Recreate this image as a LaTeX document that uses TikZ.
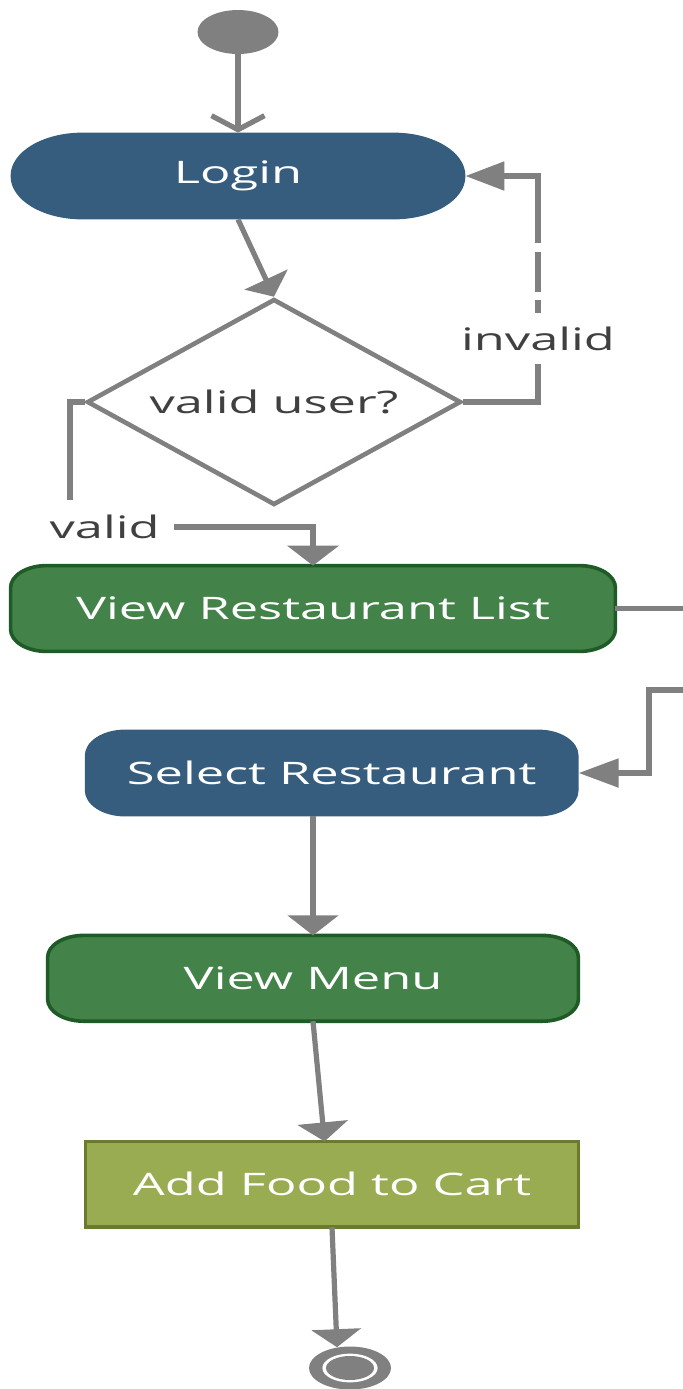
\documentclass[tikz,border=0pt]{standalone}
\usepackage{fontspec}
\setmainfont[FakeStretch=1.63]{Open Sans}
\usetikzlibrary{arrows.meta,shapes.geometric,calc}
\pgfdeclarelayer{bg}
\pgfsetlayers{bg,main}
\definecolor{lgray}{HTML}{808080}
\definecolor{dtext}{HTML}{404040}
\definecolor{actblue}{HTML}{365D7E}
\definecolor{actgreen}{HTML}{438249}
\definecolor{actgreenb}{HTML}{1F5B26}
\definecolor{actolive}{HTML}{9AAC52}
\definecolor{actoliveb}{HTML}{6A7A2E}
% rounded box with elliptical corners: node, rx, ry, style
\newcommand\ebox[4]{%
  \path[#4] let \p1=(#1.north west), \p2=(#1.south east) in
    (\x1+#2,\y1) -- (\x2-#2,\y1)
    .. controls (\x2-0.448*#2,\y1) and (\x2,\y1-0.448*#3) .. (\x2,\y1-#3)
    -- (\x2,\y2+#3)
    .. controls (\x2,\y2+0.448*#3) and (\x2-0.448*#2,\y2) .. (\x2-#2,\y2)
    -- (\x1+#2,\y2)
    .. controls (\x1+0.448*#2,\y2) and (\x1,\y2+0.448*#3) .. (\x1,\y2+#3)
    -- (\x1,\y1-#3)
    .. controls (\x1,\y1-0.448*#3) and (\x1+0.448*#2,\y1) .. cycle;}
\tikzset{
  txt/.style={font=\fontsize{15.5}{18}\selectfont, inner sep=0pt},
  actbox/.style={txt, text=white, draw=none},
  dlbl/.style={txt, text=dtext},
  conn/.style={draw=lgray, line width=2.6pt},
}
\begin{document}
\begin{tikzpicture}[x=0.5pt, y=-0.5pt]
\useasboundingbox (0,0) rectangle (683,1389);
\clip (0,0) rectangle (683,1389);
% nodes
\node[ellipse, fill=lgray, minimum width=40.5pt, minimum height=22pt, inner sep=0pt] (start) at (238,32) {};
\node[actbox, minimum width=227pt, minimum height=43pt] (login) at (238,176) {Login};
\node[diamond, draw=lgray, line width=2.3pt, fill=white, minimum width=187pt, minimum height=103pt,
      aspect=1.8, inner sep=0pt, dlbl] (dia) at (274,402) {valid user?};
\node[dlbl, minimum height=25.5pt] (inv) at (538,338.5) {invalid};
\coordinate (vturn) at (70,500);
\node[dlbl, anchor=east, inner xsep=7pt] (val) at (174,527) {valid};
\node[actbox, minimum width=302pt, minimum height=42.5pt] (vrl) at (313,608.5) {View Restaurant List};
\node[actbox, minimum width=246.5pt, minimum height=43pt] (sr) at (331.7,773) {Select Restaurant};
\node[actbox, minimum width=265pt, minimum height=42.5pt] (vm) at (313,978.3) {View Menu};
\node[actbox, minimum width=246pt, minimum height=42.5pt] (afc) at (332,1184.3) {Add Food to Cart};
\node[ellipse, fill=lgray, minimum width=41pt, minimum height=21.5pt, inner sep=0pt] (endc) at (350,1368) {};
\fill[white] (endc.center) ellipse [x radius=13.8pt, y radius=7.2pt];
\fill[lgray] (endc.center) ellipse [x radius=12pt, y radius=6pt];
% box backgrounds
\begin{pgfonlayer}{bg}
  \ebox{login}{36pt}{21.5pt}{fill=actblue}
  \ebox{vrl}{18pt}{11pt}{fill=actgreen, draw=actgreenb, line width=1.8pt}
  \ebox{sr}{20pt}{13pt}{fill=actblue}
  \ebox{vm}{18pt}{11pt}{fill=actgreen, draw=actgreenb, line width=1.8pt}
  \path[fill=actolive, draw=actoliveb, line width=1.8pt] (afc.north west) rectangle (afc.south east);
\end{pgfonlayer}
% connectors
\draw[conn, -{Straight Barb[width=26.5pt, length=7pt]}] (start.south) -- (login.north);
\draw[conn, -{Triangle[width=23.5pt, length=9.5pt]}] (login.south) -- (dia.north);
\draw[conn] (dia.east) -| (inv.south);
\draw[conn, dash pattern=on 6.5pt off 4pt on 20pt off 4.5pt on 400pt off 0pt,
      -{Triangle[width=14pt, length=19.5pt]}] (inv.north) |- (login.east);
\draw[conn] (dia.west) -| (vturn);
\draw[conn, -{Triangle[width=25.5pt, length=10pt]}] (val.east) -| (vrl.north);
\draw[conn, -{Triangle[width=14pt, length=20pt]}] (vrl.east) -- (700,608.5) -- (700,690) -- (649,690) |- (sr.east);
\draw[conn, -{Triangle[width=25pt, length=10pt]}] (vm.north |- sr.south) -- (vm.north);
\draw[conn, -{Triangle[width=25pt, length=9.5pt]}] (vm.south) -- ($(afc.north)+(-7.5,0)$);
\draw[conn, -{Triangle[width=24.5pt, length=9pt]}] (afc.south) -- (endc.122);
\end{tikzpicture}
\end{document}
